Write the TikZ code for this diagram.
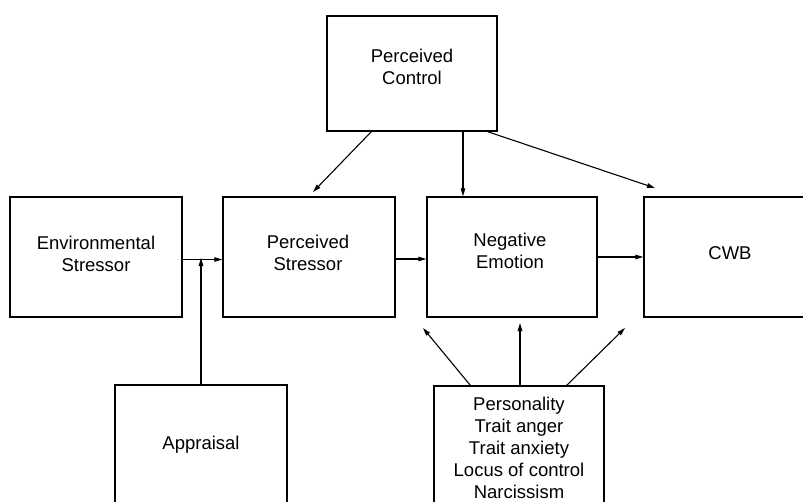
\documentclass[tikz,border=0pt]{standalone}
\usepackage{fontspec}
\setmainfont{Liberation Sans}
\usetikzlibrary{arrows.meta}
\tikzset{
  x=1pt, y=-1pt,
  box/.style={draw, line width=1.4pt, rectangle, inner sep=0pt,
    minimum width=172pt, minimum height=120pt},
  txt/.style={inner sep=0pt, align=center, font=\fontsize{18.5}{22}\selectfont},
  arr/.style={line width=1.1pt, -{Triangle[length=8pt,width=4.5pt]}},
}
\begin{document}
\begin{tikzpicture}
\useasboundingbox (0,0) rectangle (803,501);
\clip (0,0) rectangle (803,501);
% boxes
\node[box] (env) at (96,257) {};
\node[box] (ps) at (309,257) {};
\node[box, minimum width=170pt] (ne) at (512,257) {};
\node[box] (cwb) at (730,257) {};
\node[box, minimum width=170pt, minimum height=115pt] (pc) at (412,73.5) {};
\node[box] (ap) at (201,445) {};
\node[box, minimum width=170pt] (pe) at (519,446) {};
% texts
\node[txt] (envt) at (96,253.5) {Environmental\\Stressor};
\node[txt] (pst) at (308,252.5) {Perceived\\Stressor};
\node[txt] (net) at (510,251) {Negative\\Emotion};
\node[txt] (cwbt) at (730,253) {CWB};
\node[txt] (pct) at (412,67) {Perceived\\Control};
\node[txt] (apt) at (201,445) {Appraisal};
\node[txt] (pet) at (519,447.5) {Personality\\Trait anger\\Trait anxiety\\Locus of control\\Narcissism};
% free ends
\coordinate (j) at (201,258);
\coordinate (pcps) at (313,192);
\coordinate (pccwb) at (655,188);
\coordinate (pene1) at (423,328);
\coordinate (pene2) at (520,323);
\coordinate (pene3) at (625,328);
% connectors
\draw[arr] ([yshift=-2.5pt]env.east) -- ([yshift=-2.5pt]ps.west);
\draw[arr] (ap.north) -- (j);
\draw[arr] ([yshift=-2pt]ps.east) -- ([yshift=-2pt]ne.west);
\draw[arr] (ne.east) -- (cwb.west);
\draw[arr] ([xshift=45pt]pc.south west) -- (pcps);
\draw[arr] ([xshift=51pt]pc.south) -- ([xshift=-49pt]ne.north);
\draw[arr] ([xshift=-10pt]pc.south east) -- (pccwb);
\draw[arr] ([xshift=37pt]pe.north west) -- (pene1);
\draw[arr] ([xshift=1pt]pe.north) -- (pene2);
\draw[arr] ([xshift=-38pt]pe.north east) -- (pene3);
\end{tikzpicture}
\end{document}
